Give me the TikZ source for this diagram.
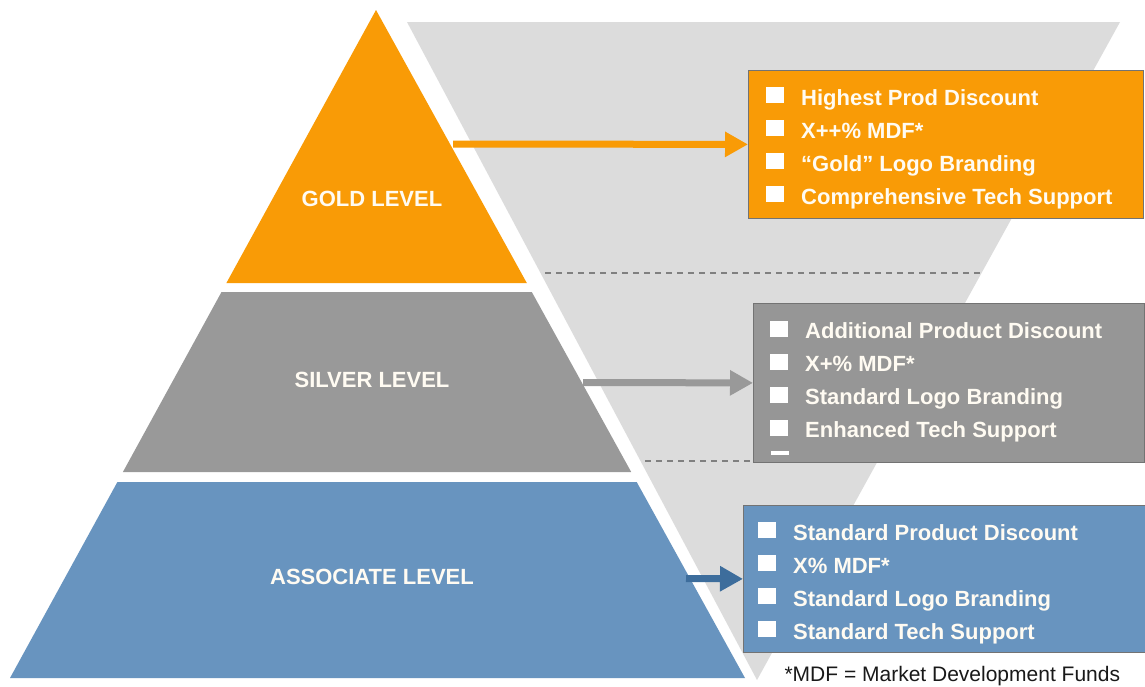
\documentclass[tikz,border=0pt]{standalone}
\usepackage{fontspec}
\setmainfont{Liberation Sans}
\usepackage{xcolor}
\usetikzlibrary{arrows.meta,positioning,calc}
\definecolor{cGold}{HTML}{F99B06}
\definecolor{cSilv}{HTML}{999999}
\definecolor{cSilvBx}{HTML}{969696}
\definecolor{cAsc}{HTML}{6894BF}
\definecolor{cAscArr}{HTML}{3D6D9C}
\definecolor{cFunnel}{HTML}{DCDCDC}
\definecolor{cTxt}{HTML}{FFFBF2}
\newcommand{\bul}{\raisebox{2pt}{\color{white}\rule{18pt}{16pt}}\hspace{17pt}}

\begin{document}
\begin{tikzpicture}[x=1pt,y=-1pt,
  lvl/.style={font=\bfseries\fontsize{22}{26}\selectfont,text=cTxt},
  bx/.style={draw=black!55,line width=0.8pt,anchor=north west,inner sep=0pt},
  lst/.style={align=left,inner sep=0pt,text=cTxt,
    font=\bfseries\fontsize{22}{33}\selectfont},
  arr/.style={-{Triangle[length=23pt,width=24pt]},line width=7pt},
  div/.style={draw=black!50,line width=2pt,dash pattern=on 6pt off 5pt}]

  \useasboundingbox[fill=white] (0,0) rectangle (1145,686);

  % funnel behind the benefit boxes
  \fill[cFunnel] (407,22) -- (1120,22) -- (757,680) -- cycle;

  % pyramid tiers
  \fill[cGold] (376,10) -- (526.8,283) -- (226.4,283) -- cycle;
  \fill[cSilv] (221.5,292) -- (531.8,292) -- (631.2,472) -- (122.9,472) -- cycle;
  \fill[cAsc] (117.4,482) -- (636.7,482) -- (745,678) -- (10,678) -- cycle;

  \node[lvl] (gold) at (372,199) {GOLD LEVEL};
  \node[lvl] (silver) at (372,380) {SILVER LEVEL};
  \node[lvl] (assoc) at (372,577) {ASSOCIATE LEVEL};

  % benefit boxes
  \node[bx,fill=cGold,minimum width=395pt,minimum height=148pt] (goldbox) at (748,70) {};
  \node[bx,fill=cSilvBx,minimum width=391pt,minimum height=159pt] (silverbox) at (753,303) {};
  \node[bx,fill=cAsc,minimum width=402pt,minimum height=147pt] (assocbox) at (743,505) {};

  \node[lst,below right=17pt and 18pt of goldbox.north west] (goldlst)
    {\bul Highest Prod Discount\\\bul X++\% MDF*\\\bul “Gold” Logo Branding\\\bul Comprehensive Tech Support};
  \node[lst,below right=17.5pt and 17pt of silverbox.north west] (silverlst)
    {\bul Additional Product Discount\\\bul X+\% MDF*\\\bul Standard Logo Branding\\\bul Enhanced Tech Support};
  \fill[white] (771,451) rectangle (789,455);
  \node[lst,below right=17pt and 15pt of assocbox.north west] (assoclst)
    {\bul Standard Product Discount\\\bul X\% MDF*\\\bul Standard Logo Branding\\\bul Standard Tech Support};

  % tier dividers on the funnel
  \coordinate (d1a) at (545,273);
  \coordinate (d1b) at (980,273);
  \coordinate (d2a) at (645,461);
  \draw[div] (d1a) -- (d1b);
  \draw[div] (d2a) -- (d2a -| silverbox.west);

  % tier to box arrows
  \coordinate (goldR) at (453,144);
  \coordinate (silverR) at (583,382.5);
  \coordinate (assocR) at (686,578.5);
  \draw[arr,draw=cGold] (goldR) -- (goldbox.west);
  \draw[arr,draw=cSilv] (silverR) -- (silverbox.west);
  \draw[arr,draw=cAscArr] (assocR) -- (assocbox.west);

  \node[anchor=base west,font=\fontsize{21}{24}\selectfont,text=black!90] (mdf)
    at (781,681) {*MDF = Market Development Funds};
\end{tikzpicture}
\end{document}
